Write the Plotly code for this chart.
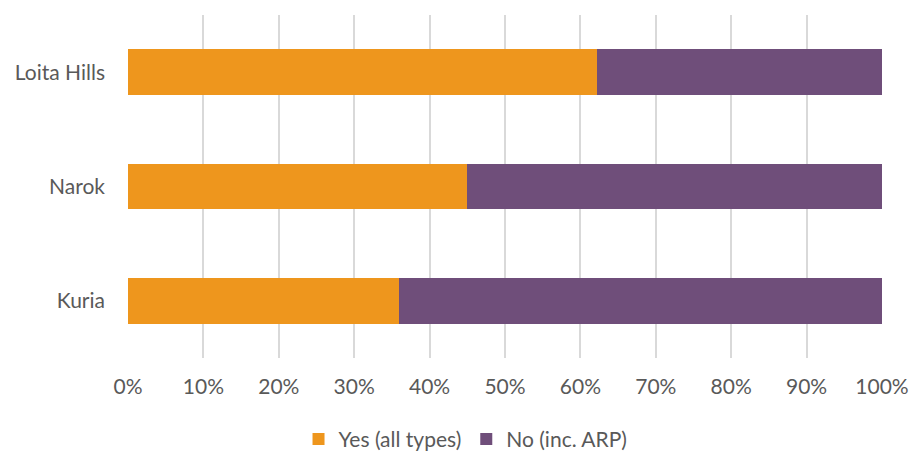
import plotly.graph_objects as go

categories = ["Loita Hills", "Narok", "Kuria"]
yes_vals = [0.6225, 0.4495, 0.359]
no_vals = [1 - v for v in yes_vals]
x_ticks = [i / 10 for i in range(11)]
x_tick_labels = [f"{i*10}%" for i in range(11)]

fig = go.Figure()
fig.add_trace(go.Bar(y=categories, x=yes_vals, orientation="h", name="Yes (all types)",
                     marker=dict(color="#EE961D", line=dict(width=0))))
fig.add_trace(go.Bar(y=categories, x=no_vals, orientation="h", name="No (inc. ARP)",
                     marker=dict(color="#6F4E7A", line=dict(width=0))))

font_fam = "Lato, Open Sans, sans-serif"
fs = 21
fig.update_layout(
    barmode="stack",
    bargap=0.6,
    width=911, height=453,
    margin=dict(l=128, r=29, t=15, b=95, autoexpand=False),
    plot_bgcolor="white", paper_bgcolor="white",
    font=dict(family=font_fam, size=fs, color="#595959"),
    xaxis=dict(range=[0, 1], tickvals=x_ticks, ticktext=x_tick_labels,
               showgrid=True, gridcolor="#D9D9D9", gridwidth=1.5, zeroline=False,
               showline=False, ticks="", ticklabelstandoff=14, automargin=False,
               tickfont=dict(size=fs, color="#595959")),
    yaxis=dict(categoryorder="array", categoryarray=categories[::-1],
               showgrid=False, showline=False, ticks="", ticklabelstandoff=22,
               automargin=False,
               tickfont=dict(size=fs, color="#595959")),
    legend=dict(orientation="h", x=0.511, xanchor="center", xref="container",
                y=0.03, yanchor="middle", yref="container",
                font=dict(size=fs, color="#595959"), traceorder="normal"),
)
fig.write_html("out.html")
